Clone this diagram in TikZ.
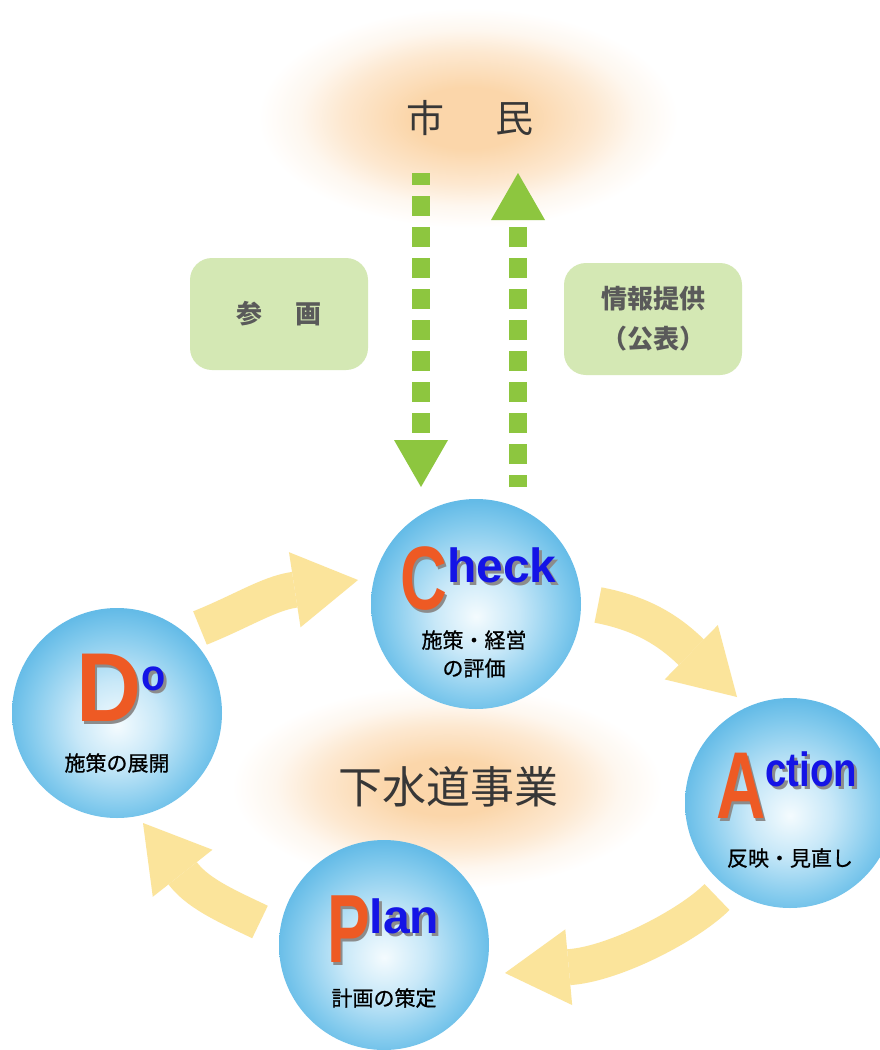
\documentclass[tikz,border=0pt]{standalone}
\usepackage{fontspec}
\usepackage{graphicx}
\usetikzlibrary{arrows.meta}
\setmainfont{Liberation Sans}
\newfontfamily\jp{Noto Sans CJK JP}
\newfontfamily\jpm{Noto Sans CJK JP}[FakeBold=0.8]
\newfontfamily\lat{Liberation Sans}
\definecolor{orangeL}{RGB}{238,90,36}
\definecolor{blueL}{RGB}{20,20,230}
\definecolor{shadowG}{RGB}{140,140,140}
\definecolor{yelA}{RGB}{251,228,155}
\definecolor{greenA}{RGB}{141,198,63}
\definecolor{boxG}{RGB}{212,232,180}
\definecolor{boxT}{RGB}{90,90,90}
\definecolor{darkT}{RGB}{55,55,55}
\definecolor{glowc}{RGB}{251,214,170}
\definecolor{glowd}{RGB}{253,232,208}
\definecolor{glowe}{RGB}{254,247,239}
\definecolor{sphA}{RGB}{244,251,254}
\definecolor{sphB}{RGB}{200,232,248}
\definecolor{sphC}{RGB}{130,202,237}
\definecolor{sphD}{RGB}{100,187,231}
\pgfdeclareradialshading{glow}{\pgfpoint{0bp}{0bp}}{color(0bp)=(glowc); color(7bp)=(glowc); color(15bp)=(glowd); color(20bp)=(glowe); color(25bp)=(white); color(50bp)=(white)}
\pgfdeclareradialshading{sphere}{\pgfpoint{0bp}{-3bp}}{color(0bp)=(sphA); color(10bp)=(sphB); color(21bp)=(sphC); color(26bp)=(sphD); color(50bp)=(sphD)}
\newcommand\shtxt[2]{\makebox[0pt][l]{\hspace{3pt}\raisebox{-3pt}{\textcolor{shadowG}{#2}}}\textcolor{#1}{#2}}
% big letter, its scale and size; small letters, their scale, size and raise
\newcommand\pdcaword[7]{{\fontsize{#3}{#3}\selectfont\scalebox{#2}[1]{\shtxt{orangeL}{#1}}}{\fontsize{#6}{#6}\selectfont\raisebox{#7}{\scalebox{#5}[1]{\shtxt{blueL}{#4}}}}}
\tikzset{
  ball/.style={circle, minimum size=210pt, inner sep=0pt, shading=sphere},
  yarrow/.style={draw=yelA, line width=36pt, line join=round, -{Triangle[width=76pt,length=64pt,line width'=0pt]}},
  garrow/.style={draw=greenA, line width=18pt, dash pattern=on 20pt off 11pt, dash phase=8pt, -{Triangle[width=54pt,length=47pt,line width'=0pt]}},
  gbox/.style={fill=boxG, rounded corners=22pt, minimum width=178pt, minimum height=112pt, text=boxT, font=\jp\bfseries\fontsize{26}{40}\selectfont, align=center},
  capt/.style={font=\jpm\fontsize{21}{28}\selectfont, align=center, inner sep=0pt, text=black},
  word/.style={anchor=base west, inner sep=0pt, font=\lat\bfseries},
  title/.style={text=darkT, inner sep=0pt}
}
\begin{document}
\begin{tikzpicture}[x=1pt,y=-1pt]
\useasboundingbox (0,0) rectangle (880,1050);
\fill[white] (0,0) rectangle (880,1050);
% glows
\shade[shading=glow] (468,118) ellipse (210 and 110);
\shade[shading=glow] (447,787) ellipse (215 and 102);
% circles
\node[ball] (check) at (476,604) {};
\node[ball] (do) at (117,713) {};
\node[ball] (action) at (790,803) {};
\node[ball] (plan) at (384,945) {};
% yellow cycle arrows
\coordinate (y1s) at (200,628); \coordinate (y1b) at (293,590); \coordinate (y1e) at (358,580);
\coordinate (y2s) at (598,605); \coordinate (y2b) at (690,651); \coordinate (y2e) at (737,697);
\coordinate (y3s) at (717,897); \coordinate (y3b) at (571,967); \coordinate (y3e) at (505,973);
\coordinate (y4s) at (260,922); \coordinate (y4b) at (184,875); \coordinate (y4e) at (143,823);
\draw[yarrow] (y1s) .. controls (242,611) and (268,594) .. (y1b) -- (y1e);
\draw[yarrow] (y2s) .. controls (640,613) and (667,629) .. (y2b) -- (y2e);
\draw[yarrow] (y3s) .. controls (689,925) and (616,963) .. (y3b) -- (y3e);
\draw[yarrow] (y4s) .. controls (231,908) and (200,895) .. (y4b) -- (y4e);
% PDCA words
\node[word] (checkword) at (400,609) {\pdcaword{C}{0.72}{90}{heck}{1}{48}{27pt}};
\node[word] (doword) at (76,721) {\pdcaword{D}{0.92}{98}{o}{0.9}{44}{31pt}};
\node[word] (actionword) at (716,818) {\pdcaword{A}{0.72}{95}{ction}{0.8}{48}{32pt}};
\node[word] (planword) at (327,962) {\pdcaword{P}{0.66}{97}{lan}{1}{48}{29pt}};
% captions
\node[capt] (checkcap) at (474,654) {施策・経営\\の評価};
\node[capt] (docap) at (117,763) {施策の展開};
\node[capt] (actioncap) at (790,858) {反映・見直し};
\node[capt] (plancap) at (384,998) {計画の策定};
% titles
\node[title, font=\jp\fontsize{38}{38}\selectfont] (citizen) at (470,118) {市\hspace{52pt}民};
\node[title, font=\jp\fontsize{44}{44}\selectfont] (sewer) at (448,787) {下水道事業};
% green boxes
\node[gbox] (sankaku) at (279,314) {参\hspace{1.3em}画};
\node[gbox] (joho) at (653,319) {情報提供\\（公表）};
% green arrows
\coordinate (g1s) at (421,173); \coordinate (g1e) at (421,487);
\coordinate (g2s) at (518,487); \coordinate (g2e) at (518,173);
\draw[garrow] (g1s) -- (g1e);
\draw[garrow] (g2s) -- (g2e);
\end{tikzpicture}
\end{document}
